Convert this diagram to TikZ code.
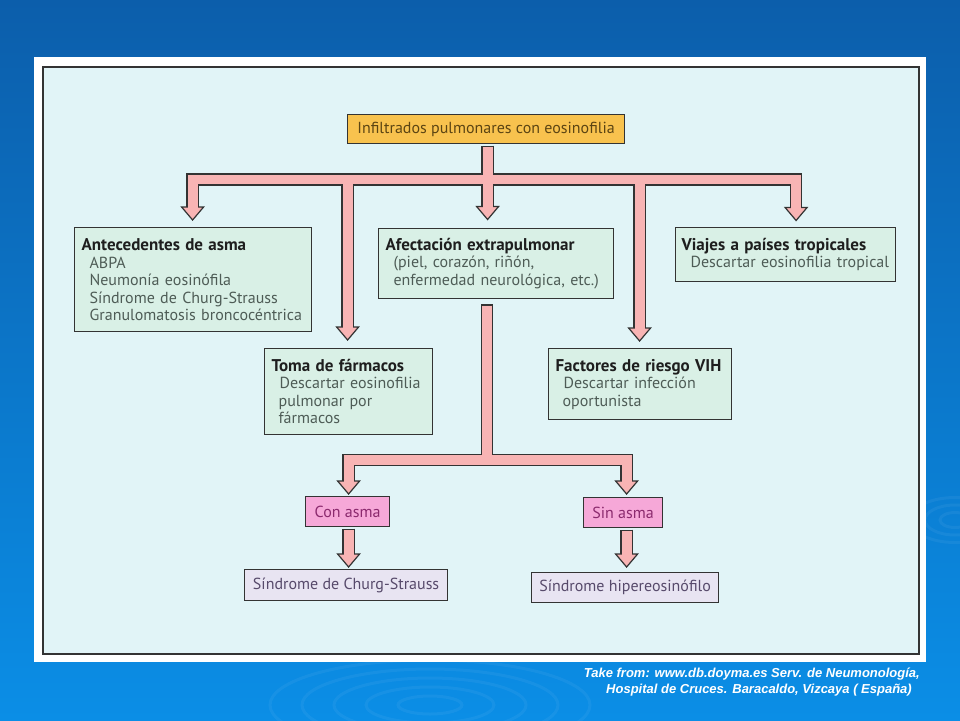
\documentclass[tikz,border=0pt]{standalone}
\usepackage{fontspec}
\setmainfont{PT Sans}
\newfontfamily\footfont{Liberation Sans}
\usetikzlibrary{calc}
\definecolor{bgtop}{HTML}{0C5EAB}
\definecolor{bgbot}{HTML}{0B8EE6}
\definecolor{panel}{HTML}{E1F4F7}
\definecolor{boxg}{HTML}{D9F0E6}
\definecolor{edge}{HTML}{333333}
\definecolor{pinkc}{HTML}{F8B4B4}
\definecolor{orangec}{HTML}{F8C24E}
\definecolor{magc}{HTML}{F6A8D8}
\definecolor{lavc}{HTML}{E8E4F2}
\definecolor{bodyc}{HTML}{4E5C56}
\definecolor{titlec}{HTML}{1E1E1E}
\definecolor{topt}{HTML}{5C4513}
\definecolor{magt}{HTML}{8B2A6E}
\definecolor{lavt}{HTML}{574A6B}
\tikzset{
  basebox/.style={draw=edge, line width=1.2pt, anchor=north west, inner ysep=0pt, inner xsep=7pt,
    font=\fontsize{16}{17.5}\selectfont},
  gbox/.style={basebox, fill=boxg, align=left, text=bodyc},
  obox/.style={basebox, fill=orangec, text=topt, align=center, inner xsep=0pt},
  mbox/.style={basebox, fill=magc, text=magt, align=center, inner xsep=0pt},
  lbox/.style={basebox, fill=lavc, text=lavt, align=center, inner xsep=0pt},
  outerpass/.style={draw=edge, line width=12.5pt, line join=miter},
  innerpass/.style={draw=pinkc, line width=9.8pt, line join=miter, shorten <=1.35pt},
  headst/.style={fill=pinkc, draw=edge, line width=1.2pt, line join=miter},
}
\newcommand\ind{\hspace*{8pt}}
\newcommand\ttl[1]{\textcolor{titlec}{\fontsize{17}{17.5}\selectfont\textbf{#1}}}
\newcommand\headtip[1]{\filldraw[headst] ($(#1)+(-11,-13)$) -- ($(#1)+(11,-13)$) -- (#1) -- cycle;}
\begin{document}
\begin{tikzpicture}[x=1pt,y=-1pt]
\useasboundingbox (0,0) rectangle (960,720);
\shade[top color=bgtop, bottom color=bgbot] (0,0) rectangle (960,720);
% faint ripples
\begin{scope}[white, opacity=0.05, line width=3pt]
  \foreach \r in {20,40,60,80,100} {\draw (430,705) ellipse ({\r*1.6} and {\r*0.45});}
  \foreach \r in {15,30,45} {\draw (955,520) ellipse ({\r} and {\r*0.5});}
\end{scope}
\fill[white] (34,57) rectangle (926,662);
\draw[edge, line width=1.4pt, fill=panel] (43,67) rectangle (919,654);

% nodes
\node[obox, minimum width=277pt, minimum height=29pt] (top) at (347,114) {Infiltrados pulmonares con eosinofilia};
\node[gbox, text width=223pt, minimum height=104pt] (ante) at (74,227)
  {\ttl{Antecedentes de asma}\\\ind ABPA\\\ind Neumonía eosinófila\\\ind Síndrome de Churg-Strauss\\\ind Granulomatosis broncocéntrica};
\node[gbox, text width=221pt, minimum height=70pt] (afec) at (378,228)
  {\ttl{Afectación extrapulmonar}\\\ind (piel, corazón, riñón,\\\ind enfermedad neurológica, etc.)};
\node[gbox, text width=208pt, inner xsep=6pt, minimum height=54pt] (viaj) at (675,227)
  {\ttl{Viajes a países tropicales}\\\mbox{\hspace*{9pt}Descartar eosinofilia tropical}};
\node[gbox, text width=154pt, minimum height=86pt] (toma) at (264,348)
  {\ttl{Toma de fármacos}\\\ind Descartar eosinofilia\\\hspace*{7pt}pulmonar por\\\hspace*{7pt}fármacos};
\node[gbox, text width=169pt, minimum height=71pt] (fact) at (548,348)
  {\ttl{Factores de riesgo VIH}\\\ind Descartar infección\\\hspace*{7pt}oportunista};
\node[mbox, minimum width=84pt, minimum height=30pt] (con) at (305,496) {Con asma};
\node[mbox, minimum width=79pt, minimum height=30pt] (sin) at (583,497) {Sin asma};
\node[lbox, minimum width=203pt, minimum height=31pt] (cs) at (244,569) {Síndrome de Churg-Strauss};
\node[lbox, minimum width=187pt, minimum height=30pt] (hip) at (531,572) {Síndrome hipereosinófilo};

% arrow tips
\coordinate (tA) at ($(ante.north)+(-0.5,-7)$);
\coordinate (tB) at ($(afec.north)+(-8.5,-8.5)$);
\coordinate (tC) at ($(viaj.north)+(10.5,-6.5)$);
\coordinate (tD) at ($(toma.north)+(-1,-8)$);
\coordinate (tE) at ($(fact.north)+(-0.5,-7)$);
\coordinate (tF) at ($(con.north)+(1,-2)$);
\coordinate (tG) at ($(sin.north)+(3.5,-3)$);
\coordinate (tH) at ($(cs.north)+(2.5,-2)$);
\coordinate (tI) at ($(hip.north)+(1.5,-5)$);
\coordinate (j1) at (487,179.5);
\coordinate (j2) at (487,460);

\newcommand\conns[1]{%
  \draw[#1] ($(tA)+(0,-10)$) -- (tA |- j1) -- (tC |- j1) -- ($(tC)+(0,-10)$);
  \draw[#1] ($(top.south -| tB)+(0,1.5)$) -- ($(tB)+(0,-10)$);
  \draw[#1] (tD |- j1) -- ($(tD)+(0,-10)$);
  \draw[#1] (tE |- j1) -- ($(tE)+(0,-10)$);
  \draw[#1] ($(tF)+(0,-10)$) -- (tF |- j2) -- (tG |- j2) -- ($(tG)+(0,-10)$);
  \draw[#1] ($(afec.south -| j2)+(0,5)$) -- (j2);
  \draw[#1] ($(con.south -| tH)+(0,1.5)$) -- ($(tH)+(0,-10)$);
  \draw[#1] ($(sin.south -| tI)+(0,1.5)$) -- ($(tI)+(0,-10)$);
}
\conns{outerpass}
\headtip{tA}\headtip{tB}\headtip{tC}\headtip{tD}\headtip{tE}
\headtip{tF}\headtip{tG}\headtip{tH}\headtip{tI}
\conns{innerpass}

% footer
\node[anchor=north east, align=right, inner sep=0pt, text=white,
  font=\footfont\bfseries\itshape\fontsize{13}{15.5}\selectfont] (foot) at (920,668)
  {Take from: www.db.doyma.es Serv. de Neumonología,\\Hospital de Cruces. Baracaldo, Vizcaya ( España)\hspace*{8pt}};
\end{tikzpicture}
\end{document}
